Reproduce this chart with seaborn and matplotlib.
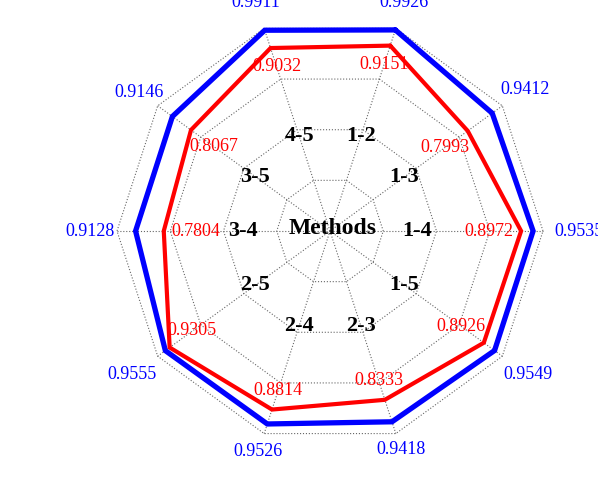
import numpy as np
import pandas as pd
import matplotlib
matplotlib.use('Agg')
import matplotlib.pyplot as plt
import seaborn as sns

categories = ['1-2', '1-3', '1-4', '1-5', '2-3', '2-4', '2-5', '3-4', '3-5', '4-5']
series_blue = [0.9926, 0.9412, 0.9535, 0.9549, 0.9418, 0.9526, 0.9555, 0.9128, 0.9146, 0.9911]
series_red = [0.9151, 0.7993, 0.8972, 0.8926, 0.8333, 0.8814, 0.9305, 0.7804, 0.8067, 0.9032]
ring_levels = [0.25, 0.5, 0.75, 1.0]
center_label = 'Methods'

sns.set_theme(style='white')
plt.rcParams['font.family'] = ['Liberation Serif', 'DejaVu Serif']

W, H = 598, 483
fig = plt.figure(figsize=(W / 100, H / 100), dpi=100)
ax = fig.add_axes([0, 0, 1, 1])
R_PX = 213.0
CX, CY = 330.0, 231.0
ax.set_xlim(-CX / R_PX, (W - CX) / R_PX)
ax.set_ylim(-(H - CY) / R_PX, CY / R_PX)
ax.axis('off')

n = len(categories)
theta = np.deg2rad(72 - 36 * np.arange(n))
cos_t, sin_t = np.cos(theta), np.sin(theta)
th_closed = np.r_[theta, theta[0]]

# grid: decagon rings and spokes
for lvl in ring_levels:
    ax.plot(lvl * np.cos(th_closed), lvl * np.sin(th_closed), ls=':', lw=0.8,
            color='#666666', zorder=1)
for c, s in zip(cos_t, sin_t):
    ax.plot([0, c * ring_levels[-1]], [0, s * ring_levels[-1]], ls=':', lw=0.8,
            color='#666666', zorder=1)

# series
for vals, color, lw in [(series_blue, '#0000ff', 3.8), (series_red, '#ff0000', 3.0)]:
    r = np.r_[vals, vals[0]]
    df = pd.DataFrame({'x': r * np.cos(th_closed), 'y': r * np.sin(th_closed)})
    sns.lineplot(data=df, x='x', y='y', sort=False, estimator=None, color=color,
                 linewidth=lw, ax=ax, solid_joinstyle='miter', zorder=3)
ax.set_xlabel('')
ax.set_ylabel('')

# value labels
for v, c, s in zip(series_blue, cos_t, sin_t):
    d = (14 + np.hypot(32 * c, 12 * s)) / R_PX
    ax.text((v + d) * c, (v + d) * s, f'{v:.4f}', color='#0000ff', fontsize=13,
            ha='center', va='center', zorder=4)
for v, c, s in zip(series_red, cos_t, sin_t):
    d = (4 + np.hypot(28 * c, 14 * s)) / R_PX
    ax.text((v - d) * c, (v - d) * s, f'{v:.4f}', color='#ff0000', fontsize=13,
            ha='center', va='center', zorder=4)

# category labels
for lab, c, s in zip(categories, cos_t, sin_t):
    rl = 0.41 + 0.066 * s ** 2
    ax.text(rl * c, rl * s, lab, fontsize=16, fontweight='bold', color='black',
            ha='center', va='center', zorder=4)
ax.text(0.01, 0.01, center_label, fontsize=17, fontweight='bold', color='black',
        ha='center', va='center', zorder=4)

fig.savefig('out.png', dpi=100)
